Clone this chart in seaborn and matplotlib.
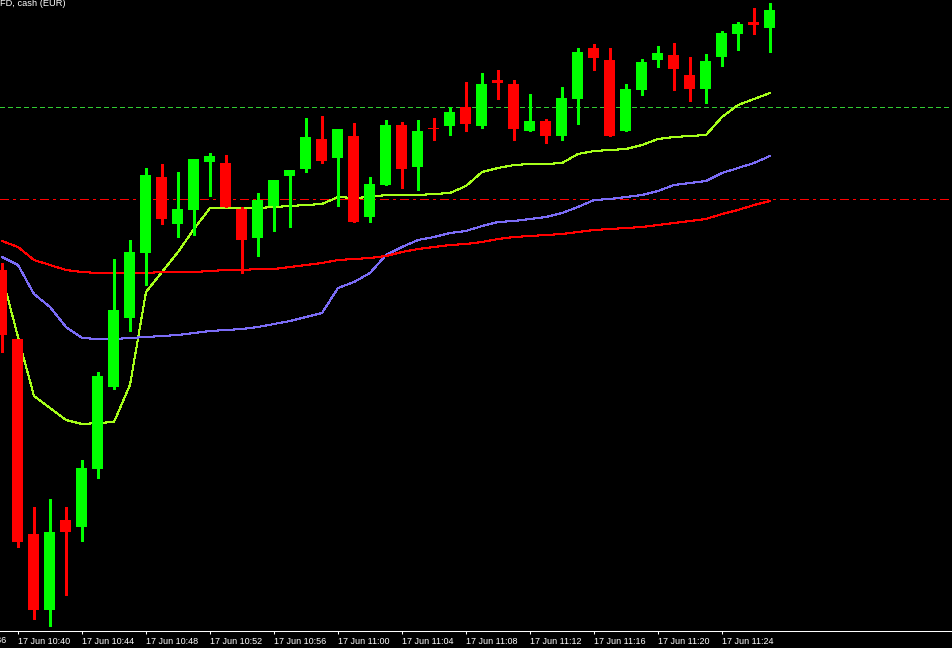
import numpy as np
import pandas as pd
import matplotlib
matplotlib.use("Agg")
import matplotlib.pyplot as plt
import matplotlib.transforms as mtransforms
import seaborn as sns

# ---------------- data (M1 candles, 17 Jun 10:39 .. 11:27) ----------------
first_minute = "10:39"
opens = [12133.0, 12126.1, 12106.6, 12099.0, 12108.0, 12107.3, 12113.1, 12121.3, 12128.2, 12134.7,
         12142.3, 12137.6, 12139.0, 12143.8, 12143.7, 12139.1, 12136.2, 12139.4, 12142.4, 12143.1,
         12146.1, 12144.2, 12146.4, 12138.3, 12141.5, 12147.5, 12143.3, 12147.1, 12147.4, 12149.3,
         12147.4, 12152.0, 12151.6, 12146.9, 12147.9, 12146.4, 12150.1, 12155.2, 12154.0, 12146.9,
         12151.0, 12154.0, 12154.5, 12152.5, 12151.1, 12154.3, 12156.6, 12157.8, 12157.2]
highs = [12133.7, 12126.1, 12109.3, 12110.1, 12109.3, 12114.0, 12122.8, 12134.1, 12136.0, 12143.2,
         12143.6, 12142.8, 12144.1, 12144.7, 12144.5, 12139.3, 12140.7, 12142.0, 12143.0, 12148.2,
         12148.4, 12147.1, 12147.7, 12142.3, 12148.0, 12147.8, 12148.0, 12148.2, 12149.3, 12151.8,
         12152.7, 12153.0, 12152.0, 12150.6, 12148.1, 12151.3, 12155.2, 12155.6, 12155.2, 12151.6,
         12154.1, 12155.4, 12155.7, 12154.3, 12154.6, 12156.9, 12157.8, 12159.2, 12159.7]
lows = [12124.8, 12105.3, 12098.1, 12097.4, 12100.5, 12105.9, 12112.2, 12121.1, 12126.9, 12131.5,
        12137.6, 12136.3, 12136.5, 12140.4, 12139.3, 12132.7, 12134.4, 12136.9, 12137.3, 12142.8,
        12143.7, 12139.4, 12137.8, 12137.8, 12141.5, 12141.2, 12141.0, 12146.0, 12146.5, 12146.9,
        12147.2, 12150.1, 12146.0, 12146.9, 12145.7, 12146.0, 12147.6, 12153.0, 12146.4, 12146.9,
        12150.5, 12153.3, 12151.0, 12149.9, 12149.7, 12153.4, 12155.0, 12156.6, 12154.8]
closes = [12126.5, 12105.8, 12099.0, 12106.8, 12106.8, 12113.2, 12122.4, 12129.0, 12134.8, 12142.5,
          12138.1, 12139.1, 12144.1, 12144.4, 12139.3, 12136.0, 12140.0, 12142.0, 12143.0, 12146.3,
          12143.9, 12147.1, 12137.8, 12141.6, 12147.5, 12143.1, 12146.9, 12147.1, 12148.8, 12147.6,
          12151.6, 12151.7, 12147.1, 12147.9, 12146.4, 12150.2, 12154.8, 12154.2, 12146.4, 12151.1,
          12153.8, 12154.7, 12153.1, 12151.1, 12153.9, 12156.7, 12157.6, 12157.5, 12159.0]

ma_fast = [12132.4, 12126.3, 12120.4, 12119.2, 12118.0, 12117.6, 12117.7, 12117.8, 12121.5, 12130.8,
           12132.8, 12134.8, 12137.1, 12139.2, 12139.2, 12139.2, 12139.2, 12139.3, 12139.4, 12139.5,
           12139.6, 12140.3, 12140.2, 12140.3, 12140.5, 12140.5, 12140.5, 12140.6, 12140.7, 12141.4,
           12142.8, 12143.2, 12143.5, 12143.6, 12143.6, 12143.7, 12144.6, 12144.9, 12145.0, 12145.1,
           12145.5, 12146.1, 12146.3, 12146.4, 12146.5, 12148.3, 12149.5, 12150.1, 12150.7]
ma_mid = [12134.3, 12133.5, 12130.6, 12129.3, 12127.3, 12126.2, 12126.1, 12126.1, 12126.2, 12126.3,
          12126.4, 12126.5, 12126.7, 12126.9, 12127.0, 12127.1, 12127.3, 12127.6, 12127.9, 12128.3,
          12128.7, 12131.2, 12131.8, 12132.7, 12134.5, 12135.3, 12136.0, 12136.3, 12136.7, 12136.9,
          12137.4, 12137.8, 12137.9, 12138.1, 12138.3, 12138.7, 12139.3, 12140.0, 12140.1, 12140.3,
          12140.5, 12140.9, 12141.5, 12141.7, 12141.9, 12142.7, 12143.2, 12143.7, 12144.4]
ma_slow = [12135.9, 12135.3, 12134.0, 12133.5, 12133.0, 12132.8, 12132.7, 12132.7, 12132.7, 12132.7,
           12132.8, 12132.8, 12132.8, 12132.9, 12133.0, 12133.0, 12133.1, 12133.1, 12133.3, 12133.5,
           12133.7, 12134.0, 12134.1, 12134.2, 12134.4, 12134.8, 12135.1, 12135.3, 12135.5, 12135.6,
           12135.8, 12136.1, 12136.3, 12136.4, 12136.5, 12136.6, 12136.8, 12137.0, 12137.1, 12137.2,
           12137.3, 12137.5, 12137.7, 12137.9, 12138.1, 12138.6, 12139.0, 12139.5, 12139.9]

level_upper = 12149.3
level_lower = 12140.1

tick_labels = ["17 Jun 10:36", "17 Jun 10:40", "17 Jun 10:44", "17 Jun 10:48", "17 Jun 10:52",
               "17 Jun 10:56", "17 Jun 11:00", "17 Jun 11:04", "17 Jun 11:08", "17 Jun 11:12",
               "17 Jun 11:16", "17 Jun 11:20", "17 Jun 11:24"]
title_text = "FD, cash (EUR)"

# ---------------- style ----------------
sns.set_style("dark")
plt.rcParams["font.family"] = ["Liberation Sans", "DejaVu Sans"]

W, H = 953, 648
fig = plt.figure(figsize=(W / 100, H / 100), dpi=100, facecolor="black")
ax = fig.add_axes([0, 17 / H, 1, 631 / H])
ax.set_facecolor("black")
ax.grid(False)

def to_min(s):
    h, m = s.split(":")
    return int(h) * 60 + int(m)

base = to_min(first_minute)
idx = np.arange(len(opens))
o = np.array(opens); c = np.array(closes); hi = np.array(highs); lo = np.array(lows)
up = c > o
colors = np.where(up, "#00FF00", "#FF0000")

# horizontal levels
ax.axhline(level_upper, color="#32CD32", lw=0.75, dashes=(4, 3), zorder=1, antialiased=False)
ax.axhline(level_lower, color="#FF0000", lw=0.75, dashes=(8, 4, 2, 4), zorder=1, antialiased=False)

# moving averages via seaborn
df = pd.DataFrame({
    "idx": np.concatenate([idx, idx, idx]),
    "value": np.concatenate([ma_fast, ma_mid, ma_slow]),
    "ma": ["fast"] * len(idx) + ["mid"] * len(idx) + ["slow"] * len(idx),
})
sns.lineplot(data=df, x="idx", y="value", hue="ma",
             palette={"fast": "#A6FF1A", "mid": "#7B6CF6", "slow": "#FF0000"},
             linewidth=0.75, legend=False, ax=ax, estimator=None, zorder=2,
             antialiased=False)

# candles
ax.vlines(idx, lo, hi, colors=colors, linewidth=0.75, zorder=3, antialiased=False)
body_bottom = np.minimum(o, c)
body_h = np.maximum(np.abs(c - o), 0.1)
ax.bar(idx, body_h, bottom=body_bottom, width=0.6875, color=colors,
       linewidth=0, zorder=4, antialiased=False)

tick_pos = [to_min(t.split(" ")[-1]) - base for t in tick_labels]
ax.set_xticks(tick_pos)
ax.set_xticklabels(tick_labels, ha="left")
ax.tick_params(axis="x", colors="white", direction="out", length=2.2, width=0.75,
               pad=2.0, labelsize=6.5, bottom=True)
ax.set_yticks([])
ax.set_xlabel("")
ax.set_ylabel("")

# scales: 16 px per candle, first candle centred at x=2px (set after ticks)
ax.set_xlim(-2 / 16, (W - 2) / 16)
ax.set_ylim(12160 - 63.1, 12160)

# the first label lies left of the visible range; draw it so its tail shows at the edge
trans = mtransforms.blended_transform_factory(ax.transData, ax.transAxes)
for p, lab in zip(tick_pos, tick_labels):
    if p < ax.get_xlim()[0]:
        ax.text(p, -5.2 / 631, lab, transform=trans, ha="left", va="top",
                color="white", fontsize=6.5, clip_on=False)

for s in ["top", "left", "right"]:
    ax.spines[s].set_visible(False)
ax.spines["bottom"].set_color("white")
ax.spines["bottom"].set_linewidth(0.75)

fig.text(0.0, 1 - 6 / H, title_text, color="white", fontsize=6.7, ha="left", va="baseline")

fig.savefig("out.png", dpi=100, facecolor="black")
